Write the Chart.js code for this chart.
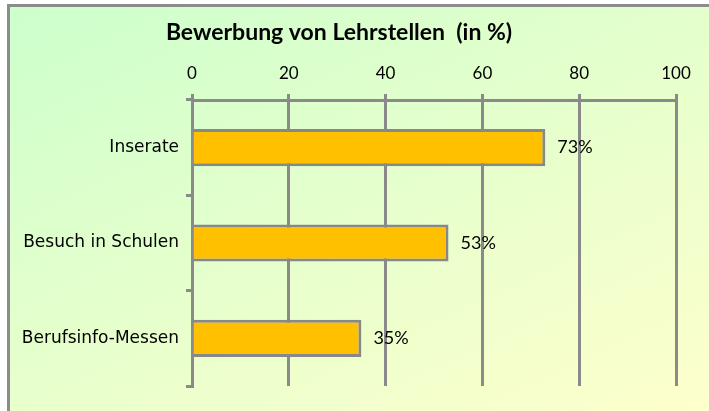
<!DOCTYPE html>
<html>
<head>
<meta charset="utf-8">
<script src="https://cdn.jsdelivr.net/npm/chart.js@4/dist/chart.umd.min.js"></script>
<style>
  html, body { margin: 0; padding: 0; background: #ffffff; }
  #wrap { position: relative; width: 709px; height: 411px; overflow: hidden; }
  #panel {
    position: absolute; left: 7px; top: 4px; width: 710px; height: 420px;
    border-top: 3px solid #8c8c8c; border-left: 3px solid #8c8c8c;
    background: linear-gradient(155deg, #ccffcc 0%, #e4ffcc 45%, #ffffcc 100%);
  }
  #chart { position: absolute; left: 0; top: 0; }
</style>
</head>
<body>
<div id="wrap">
  <div id="panel"></div>
  <canvas id="chart" width="709" height="411"></canvas>
</div>
<script>
// Survey results: how apprenticeships are advertised (share in %)
const chartTitle = 'Bewerbung von Lehrstellen  (in %)';
const categories = ['Inserate', 'Besuch in Schulen', 'Berufsinfo-Messen'];
const values = [73, 53, 35];
const xTicks = [0, 20, 40, 60, 80, 100];

const GRID = '#8a8a8a';
const lato = 'Lato, "Open Sans", sans-serif';

// Title centred over the panel
const titlePlugin = {
  id: 'panelTitle',
  afterDraw(chart) {
    const ctx = chart.ctx;
    ctx.save();
    ctx.font = 'bold 23px ' + lato;
    ctx.fillStyle = '#000';
    ctx.textAlign = 'center';
    ctx.textBaseline = 'middle';
    ctx.fillText(chartTitle, 339, 33);
    ctx.restore();
  }
};

// Percent labels to the right of each bar
const valueLabels = {
  id: 'valueLabels',
  afterDatasetsDraw(chart) {
    const ctx = chart.ctx;
    const meta = chart.getDatasetMeta(0);
    ctx.save();
    ctx.font = '18px ' + lato;
    ctx.fillStyle = '#000';
    ctx.textAlign = 'left';
    ctx.textBaseline = 'middle';
    meta.data.forEach((bar, i) => {
      ctx.fillText(values[i] + '%', bar.x + 12, bar.y);
    });
    ctx.restore();
  }
};

new Chart(document.getElementById('chart'), {
  type: 'bar',
  data: {
    labels: categories,
    datasets: [{
      data: values,
      backgroundColor: '#ffc000',
      borderColor: '#888888',
      borderWidth: 3,
      categoryPercentage: 1,
      barPercentage: 0.39
    }]
  },
  options: {
    indexAxis: 'y',
    responsive: false,
    animation: false,
    layout: { padding: { left: 0, top: 0, right: 33, bottom: 25 } },
    plugins: {
      legend: { display: false },
      tooltip: { enabled: false },
      title: { display: false }
    },
    scales: {
      x: {
        position: 'top',
        min: 0,
        max: 100,
        afterBuildTicks(scale) { scale.ticks = xTicks.map(v => ({ value: v })); },
        afterFit(scale) { scale.height = 100; },
        ticks: {
          color: '#000',
          font: { family: lato, size: 17 },
          padding: 10
        },
        grid: { color: GRID, lineWidth: 3, tickLength: 6, drawTicks: true },
        border: { display: true, color: GRID, width: 3 }
      },
      y: {
        afterFit(scale) { scale.width = 192; },
        ticks: {
          color: '#000',
          font: { family: '"DejaVu Sans", sans-serif', size: 17 },
          padding: 7
        },
        grid: {
          offset: true,
          drawOnChartArea: false,
          drawTicks: true,
          tickLength: 6,
          color: GRID,
          lineWidth: 3
        },
        border: { display: true, color: GRID, width: 3 }
      }
    }
  },
  plugins: [titlePlugin, valueLabels]
});
</script>
</body>
</html>
